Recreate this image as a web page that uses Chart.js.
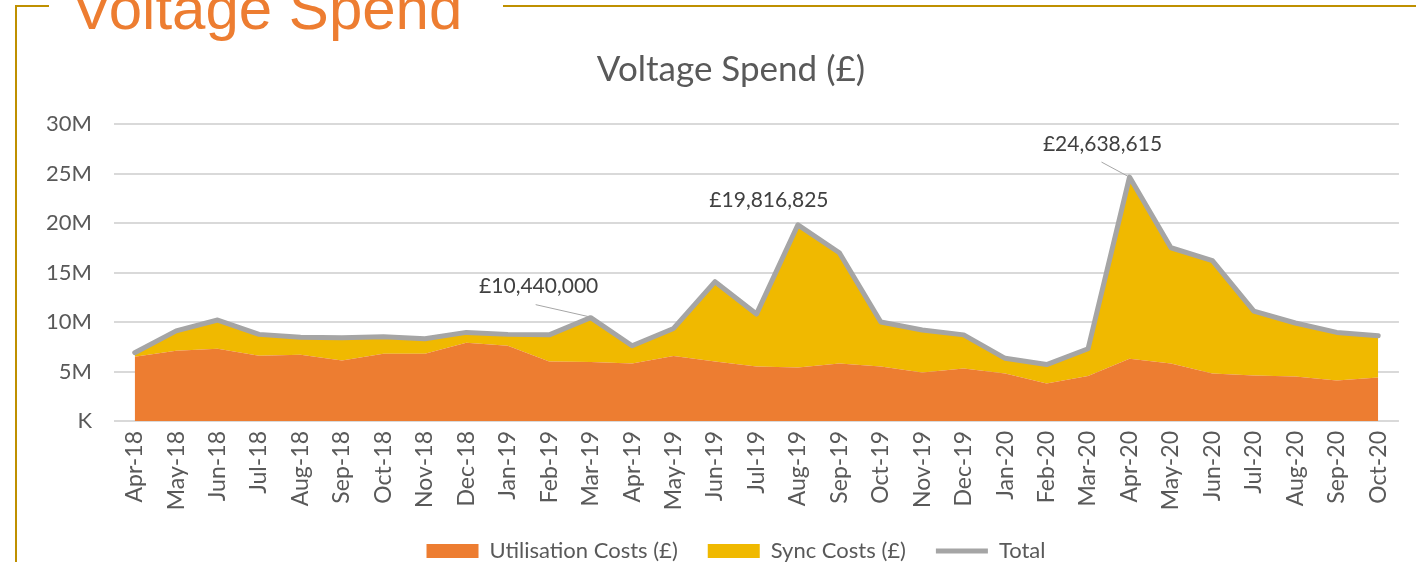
<!DOCTYPE html>
<html>
<head>
<meta charset="utf-8">
<script src="https://cdn.jsdelivr.net/npm/chart.js@4.4.0/dist/chart.umd.min.js"></script>
<style>
  html, body { margin: 0; padding: 0; background: #fff; overflow: hidden; }
  #wrap { position: relative; width: 1416px; height: 562px; }
  canvas { position: absolute; left: 0; top: 0; }
  .frame { position: absolute; background: #BF9000; }
  #heading {
    position: absolute; left: 72px; top: -21px;
    font: 60px/60px "Liberation Sans", Arial, sans-serif;
    color: #ED7D31; white-space: nowrap;
  }
</style>
</head>
<body>
<div id="wrap">
  <canvas id="myChart" width="1416" height="562"></canvas>
  <div class="frame" style="left:15px; top:5px; width:2px; height:557px;"></div>
  <div class="frame" style="left:15px; top:5px; width:34px; height:2px;"></div>
  <div class="frame" style="left:503px; top:5px; width:913px; height:2px;"></div>
  <div id="heading">Voltage Spend</div>
</div>
<script>
// Monthly spend, £
const months = ['Apr-18', 'May-18', 'Jun-18', 'Jul-18', 'Aug-18', 'Sep-18', 'Oct-18', 'Nov-18', 'Dec-18',
    'Jan-19', 'Feb-19', 'Mar-19', 'Apr-19', 'May-19', 'Jun-19', 'Jul-19', 'Aug-19', 'Sep-19', 'Oct-19',
    'Nov-19', 'Dec-19', 'Jan-20', 'Feb-20', 'Mar-20', 'Apr-20', 'May-20', 'Jun-20', 'Jul-20', 'Aug-20',
    'Sep-20', 'Oct-20'];

const utilisationCosts = [6500000, 7100000, 7300000, 6600000, 6700000, 6100000, 6800000, 6800000, 7900000,
    7600000, 6000000, 5960000, 5800000, 6570000, 6000000, 5500000, 5400000, 5800000, 5500000,
    4900000, 5300000, 4800000, 3800000, 4550000, 6300000, 5800000, 4800000, 4600000, 4500000,
    4100000, 4400000];

const syncCosts = [400000, 2000000, 2900000, 2150000, 1750000, 2300000, 1700000, 1500000, 1050000,
    1150000, 2700000, 4480000, 1800000, 2780000, 8070000, 5300000, 14416825, 11200000, 4500000,
    4300000, 3400000, 1530000, 1900000, 2750000, 18338615, 11700000, 11400000, 6500000, 5400000,
    4850000, 4200000];

const totalSpend = [6900000, 9100000, 10200000, 8750000, 8450000, 8400000, 8500000, 8300000, 8950000,
    8750000, 8700000, 10440000, 7600000, 9350000, 14070000, 10800000, 19816825, 17000000, 10000000,
    9200000, 8700000, 6330000, 5700000, 7300000, 24638615, 17500000, 16200000, 11100000, 9900000,
    8950000, 8600000];

// months that carry a value label on the Total line
const labelledMonths = ['Mar-19', 'Aug-19', 'Apr-20'];

const textColor = '#595959';
const fontFamily = 'Lato, "Open Sans", sans-serif';
const padBottom = -10;

// label placement relative to its point
const calloutOffsets = {
    'Mar-19': { dx: -52, dy: -31, leader: [-55, -13, -2, -1] },
    'Aug-19': { dx: -29, dy: -25, leader: null },
    'Apr-20': { dx: -27, dy: -33, leader: [-28, -15, -2, -1] }
};

const calloutPlugin = {
    id: 'callouts',
    afterDatasetsDraw(chart) {
        const ctx = chart.ctx;
        const meta = chart.getDatasetMeta(2);
        ctx.save();
        labelledMonths.forEach(month => {
            const i = months.indexOf(month);
            const pt = meta.data[i];
            const off = calloutOffsets[month];
            if (off.leader) {
                ctx.strokeStyle = '#A6A6A6';
                ctx.lineWidth = 1;
                ctx.beginPath();
                ctx.moveTo(pt.x + off.leader[0], pt.y + off.leader[1]);
                ctx.lineTo(pt.x + off.leader[2], pt.y + off.leader[3]);
                ctx.stroke();
            }
            ctx.fillStyle = '#404040';
            ctx.font = '21px ' + fontFamily;
            ctx.textAlign = 'center';
            ctx.textBaseline = 'middle';
            ctx.fillText('£' + totalSpend[i].toLocaleString('en-GB'), pt.x + off.dx, pt.y + off.dy);
        });
        ctx.restore();
    }
};

// title and legend sit a little right of the canvas centre in the original
const nudgePlugin = {
    id: 'nudge',
    afterLayout(chart) {
        chart.titleBlock.left += 8;
        chart.titleBlock.right += 8;
        chart.legend.left += 13;
        chart.legend.right += 13;
    }
};

const ctx = document.getElementById('myChart').getContext('2d');
const myChart = new Chart(ctx, {
    type: 'line',
    data: {
        labels: months,
        datasets: [
            {
                label: 'Utilisation Costs (£)',
                data: utilisationCosts,
                backgroundColor: '#ED7D31',
                borderColor: '#ED7D31',
                borderWidth: 0,
                fill: 'origin',
                pointRadius: 0,
                pointStyle: 'rect',
                stack: 'costs',
                order: 1
            },
            {
                label: 'Sync Costs (£)',
                data: syncCosts,
                backgroundColor: '#F0B900',
                borderColor: '#F0B900',
                borderWidth: 0,
                fill: '-1',
                pointRadius: 0,
                pointStyle: 'rect',
                stack: 'costs',
                order: 2
            },
            {
                label: 'Total',
                data: totalSpend,
                borderColor: '#A5A5A5',
                backgroundColor: '#A5A5A5',
                borderWidth: 5,
                borderCapStyle: 'round',
                borderJoinStyle: 'round',
                fill: false,
                pointRadius: 0,
                pointStyle: 'line',
                stack: 'total',
                order: 0
            }
        ]
    },
    options: {
        responsive: false,
        animation: false,
        layout: { padding: { left: 42, right: 12, top: 0, bottom: padBottom } },
        scales: {
            x: {
                offset: true,
                grid: { display: false, drawTicks: false },
                border: { display: false },
                ticks: {
                    color: textColor,
                    font: { family: fontFamily, size: 23 },
                    minRotation: 90,
                    maxRotation: 90,
                    autoSkip: false,
                    padding: 10
                },
                afterFit(scale) {
                    scale.height = 562 - 421 - padBottom - scale.chart.legend.height;
                }
            },
            y: {
                stacked: true,
                min: 0,
                max: 30000000,
                grid: { color: '#D9D9D9', lineWidth: 2, drawTicks: false },
                border: { display: false },
                ticks: {
                    stepSize: 5000000,
                    color: textColor,
                    font: { family: fontFamily, size: 22 },
                    padding: 22,
                    callback: function(value) {
                        return value === 0 ? 'K' : (value / 1000000) + 'M';
                    }
                },
                afterFit(scale) {
                    scale.width = 114 - 42;
                }
            }
        },
        plugins: {
            title: {
                display: true,
                text: 'Voltage Spend (£)',
                color: textColor,
                font: { family: fontFamily, size: 35, weight: 'normal' },
                padding: { top: 49, bottom: 33 }
            },
            legend: {
                position: 'bottom',
                labels: {
                    usePointStyle: true,
                    pointStyleWidth: 52,
                    boxHeight: 14,
                    color: textColor,
                    font: { family: fontFamily, size: 22 },
                    padding: 30,
                    sort: (a, b) => a.datasetIndex - b.datasetIndex
                }
            },
            tooltip: { enabled: false }
        }
    },
    plugins: [calloutPlugin, nudgePlugin]
});
</script>
</body>
</html>
